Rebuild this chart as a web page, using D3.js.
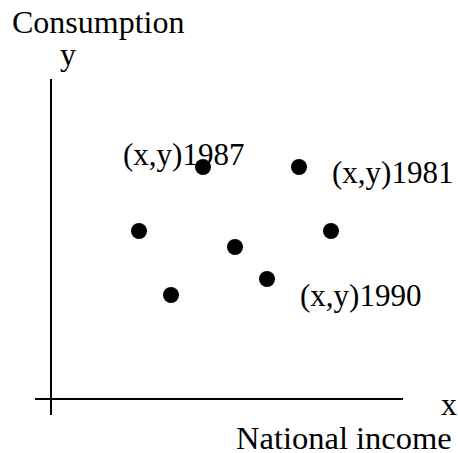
<!DOCTYPE html>
<html>
<head>
<meta charset="utf-8">
<script src="https://cdn.jsdelivr.net/npm/d3@7"></script>
<style>
  body { margin: 0; background: #fff; }
</style>
</head>
<body>
<div id="graph"></div>
<script>
// national income (x) and consumption (y), arbitrary units
var incomeValues = [2.75, 3.75, 4.75, 5.75, 6.75, 7.75, 8.75];
var consumptionValues = [5.25, 3.25, 7.25, 4.75, 3.75, 7.25, 5.25];
var yearLabels = ["", "", "(x,y)1987", "", "(x,y)1990", "(x,y)1981", ""];

var width = 458;
var height = 453;
var titleSize = 32;
var labelSize = 31;
var serif = "'Liberation Serif', 'Times New Roman', Times, serif";

var svg = d3.select('#graph')
    .append('svg')
    .attr('width', width)
    .attr('height', height)
    .style("font-family", serif);

var scaleX = d3.scaleLinear()
    .domain([0, 11])
    .range([51, 403]);

var scaleY = d3.scaleLinear()
    .domain([0, 10])
    .range([399, 79]);

var points = incomeValues.map(function(d, i) {
    return { x: d, y: consumptionValues[i], label: yearLabels[i] };
});

// axes, drawn as plain lines crossing at the origin
svg.append("line")
    .attr("x1", scaleX(-0.5))
    .attr("x2", scaleX(11))
    .attr("y1", scaleY(0))
    .attr("y2", scaleY(0))
    .attr("stroke", "#000")
    .attr("stroke-width", 2);

svg.append("line")
    .attr("x1", scaleX(0))
    .attr("x2", scaleX(0))
    .attr("y1", scaleY(-0.5))
    .attr("y2", scaleY(10))
    .attr("stroke", "#000")
    .attr("stroke-width", 2);

function addText(x, y, s, size) {
    return svg.append("text")
        .attr("x", x)
        .attr("y", y)
        .attr("font-size", size)
        .attr("fill", "#000")
        .text(s);
}

// axis titles
addText(12, 33, "Consumption", titleSize);
addText(60, 65, "y", titleSize);
addText(441, 415, "x", titleSize);
addText(236, 449, "National income", 32.5);

// year labels (offset from their point)
var offsets = {
    "(x,y)1987": [-80, -2],
    "(x,y)1981": [33, 16],
    "(x,y)1990": [33, 27]
};

svg.append("g")
    .selectAll("text")
    .data(points.filter(function(d) { return d.label !== ""; }))
    .enter()
    .append("text")
    .attr("x", function(d) { return scaleX(d.x) + offsets[d.label][0]; })
    .attr("y", function(d) { return scaleY(d.y) + offsets[d.label][1]; })
    .attr("font-size", labelSize)
    .text(function(d) { return d.label; });

svg.append("g")
    .selectAll("circle")
    .data(points)
    .enter()
    .append("circle")
    .attr("cx", function(d) { return scaleX(d.x); })
    .attr("cy", function(d) { return scaleY(d.y); })
    .attr("r", 8)
    .attr("fill", "#000");
</script>
</body>
</html>
